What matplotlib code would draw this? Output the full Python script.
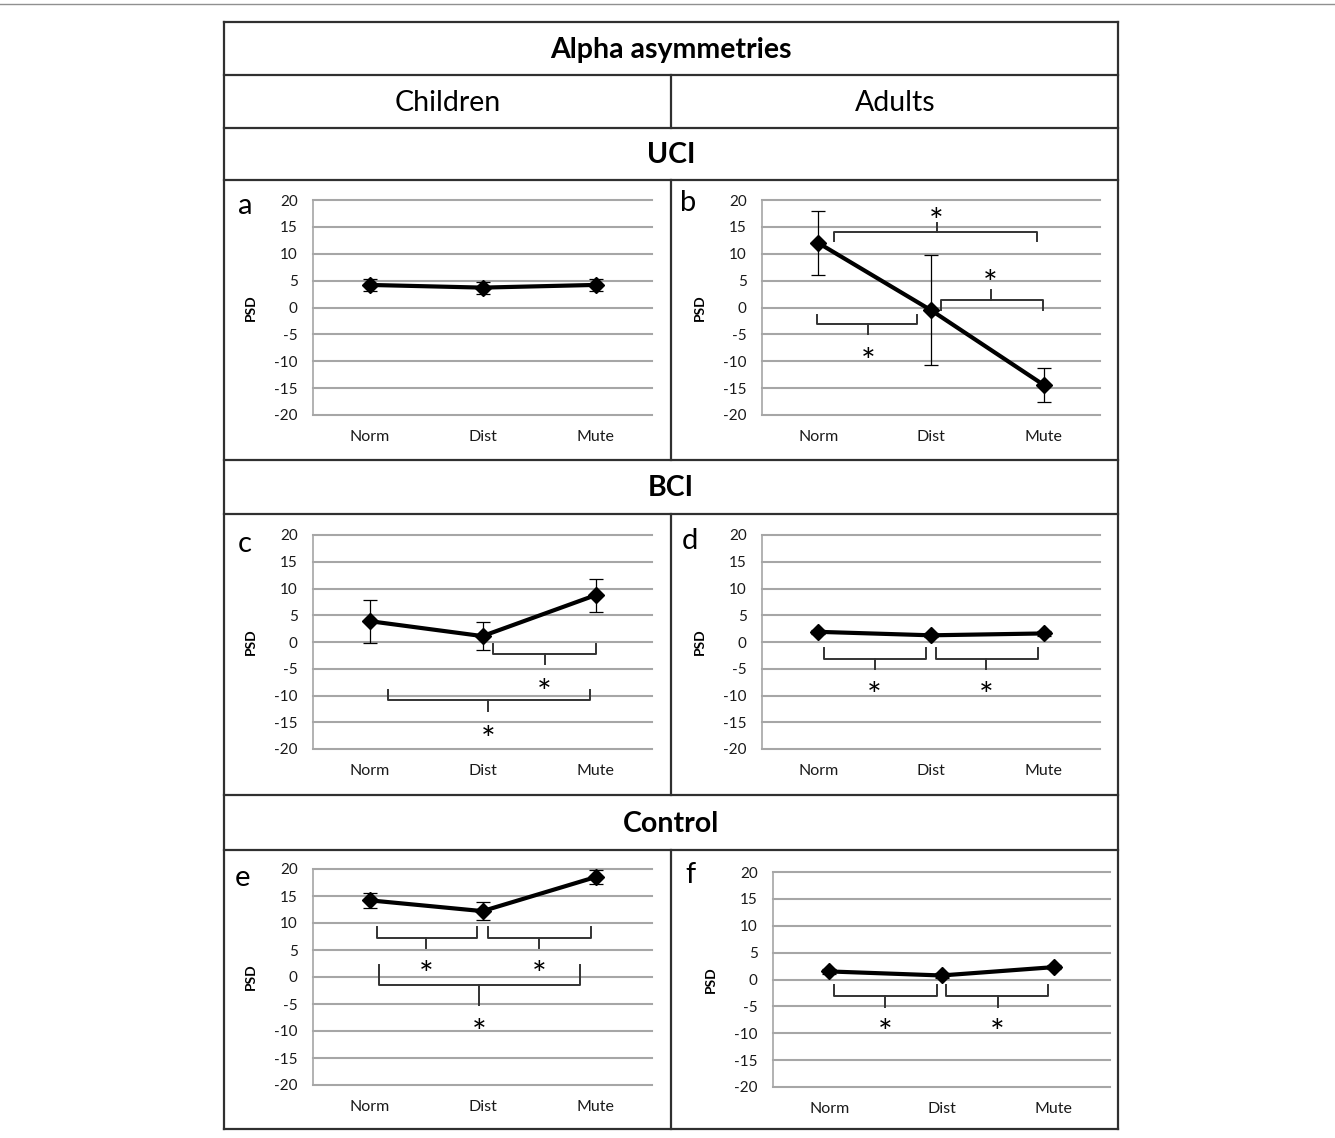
import matplotlib
matplotlib.use("Agg")
import matplotlib.pyplot as plt
from matplotlib.lines import Line2D
from matplotlib.transforms import offset_copy

plt.rcParams['font.family'] = ['Lato', 'DejaVu Sans']

# ---------------- data ----------------
categories = ["Norm", "Dist", "Mute"]
yticks = [20, 15, 10, 5, 0, -5, -10, -15, -20]

uci_children = [4.2, 3.7, 4.2]
uci_children_err = [1.1, 1.1, 1.1]
uci_adults = [12.0, -0.5, -14.4]
uci_adults_err = [5.9, 10.2, 3.2]

bci_children = [3.9, 1.1, 8.75]
bci_children_err = [4.0, 2.6, 3.1]
bci_adults = [1.9, 1.25, 1.6]
bci_adults_err = [0.4, 0.4, 0.4]

control_children = [14.2, 12.2, 18.5]
control_children_err = [1.4, 1.6, 1.3]
control_adults = [1.5, 0.75, 2.3]
control_adults_err = [0.4, 0.4, 0.4]

title = "Alpha asymmetries"
col_titles = ["Children", "Adults"]
row_titles = ["UCI", "BCI", "Control"]
panel_letters = ["a", "b", "c", "d", "e", "f"]

# ---------------- layout helpers ----------------
W, H = 1335, 1138
fig = plt.figure(figsize=(W / 100, H / 100), dpi=100)

def fx(x):
    return x / W

def fy(y):
    return 1 - y / H

def hline(y, x0, x1, lw=1.6, color="#303030"):
    fig.add_artist(Line2D([fx(x0), fx(x1)], [fy(y), fy(y)], lw=lw, color=color,
                          transform=fig.transFigure))

def vline(x, y0, y1, lw=1.6, color="#303030"):
    fig.add_artist(Line2D([fx(x), fx(x)], [fy(y0), fy(y1)], lw=lw, color=color,
                          transform=fig.transFigure))

# outer page line
hline(4, 0, W, lw=1.0, color="#909090")

# table
L, R, T, B, MID = 224, 1118, 22, 1129, 671
hline(T, L, R)
hline(B, L, R)
vline(L, T, B)
vline(R, T, B)
for y in [75, 128, 180, 460, 514, 795, 850]:
    hline(y, L, R)
vline(MID, 75, 128)
vline(MID, 180, 460)
vline(MID, 514, 795)
vline(MID, 850, B)

HFS = 20.5
fig.text(fx(671), fy(50), title, ha="center", va="center", fontsize=HFS, fontweight="bold")
fig.text(fx(448), fy(103), col_titles[0], ha="center", va="center", fontsize=HFS)
fig.text(fx(895), fy(103), col_titles[1], ha="center", va="center", fontsize=HFS)
fig.text(fx(671), fy(155), row_titles[0], ha="center", va="center", fontsize=HFS, fontweight="bold")
fig.text(fx(671), fy(488), row_titles[1], ha="center", va="center", fontsize=HFS, fontweight="bold")
fig.text(fx(671), fy(824), row_titles[2], ha="center", va="center", fontsize=HFS, fontweight="bold")

# axes boxes in pixels: left, right, top, bottom
boxes = [
    (313, 652, 200, 415),
    (762, 1100, 200, 415),
    (313, 652, 535, 749),
    (762, 1100, 535, 749),
    (313, 652, 869, 1085),
    (773, 1110, 872, 1087),
]
letter_pos = [(245, 206), (688, 203), (245, 544), (690, 541), (243, 878), (690, 875)]

series = [
    (uci_children, uci_children_err),
    (uci_adults, uci_adults_err),
    (bci_children, bci_children_err),
    (bci_adults, bci_adults_err),
    (control_children, control_children_err),
    (control_adults, control_adults_err),
]

# significance brackets: (x0, x1, y_bar, y_end, y_tip, x_tip, y_star)
brackets = [
    [],
    [(0.64, 2.44, 14.0, 12.3, 15.8, 1.55, 17.8),
     (1.59, 2.49, 1.4, -0.4, 3.3, 2.03, 6.3),
     (0.49, 1.38, -3.1, -1.4, -5.0, 0.94, -8.2)],
    [(1.59, 2.50, -2.3, -0.4, -4.2, 2.05, -7.5),
     (0.66, 2.45, -10.9, -9.0, -12.9, 1.55, -16.4)],
    [(0.55, 1.46, -3.2, -1.1, -5.1, 1.0, -8.2),
     (1.54, 2.45, -3.2, -1.1, -5.1, 1.99, -8.2)],
    [(0.57, 1.45, 7.3, 9.3, 5.4, 1.0, 2.3),
     (1.55, 2.46, 7.3, 9.3, 5.4, 2.0, 2.3),
     (0.58, 2.36, -1.55, 2.2, -5.2, 1.47, -8.4)],
    [(0.54, 1.46, -3.0, -1.1, -5.1, 1.0, -8.1),
     (1.54, 2.45, -3.0, -1.1, -5.1, 2.0, -8.1)],
]

xpos = [0.5, 1.5, 2.5]
grid_color = "#a6a6a6"
STAR_FS = 25

for i, ((l, r, t, b), (vals, errs)) in enumerate(zip(boxes, series)):
    ax = fig.add_axes([fx(l), fy(b), fx(r) - fx(l), fy(t) - fy(b)])
    ax.set_xlim(0, 3)
    ax.set_ylim(-20, 20)
    for yv in yticks:
        ax.axhline(yv, color=grid_color, lw=1.5, clip_on=False, zorder=1)
    for s in ["top", "right", "bottom"]:
        ax.spines[s].set_visible(False)
    ax.spines["left"].set_color(grid_color)
    ax.spines["left"].set_linewidth(1.2)
    ax.set_yticks(yticks)
    ax.set_yticklabels([str(v) for v in yticks])
    ax.set_xticks(xpos)
    ax.set_xticklabels(categories)
    ax.tick_params(axis="y", length=0, pad=11, labelsize=11, labelcolor="#1a1a1a")
    ax.tick_params(axis="x", length=0, pad=11, labelsize=11.5, labelcolor="#1a1a1a")
    ax.set_ylabel("PSD", fontsize=10, fontweight="bold")
    ax.yaxis.set_label_coords(-56 / (r - l), 0.5)
    ax.patch.set_alpha(0)

    ax.errorbar(xpos, vals, yerr=errs, fmt="none", ecolor="black", elinewidth=0.9,
                capsize=5, capthick=0.9, zorder=3)
    ax.plot(xpos, vals, color="black", lw=3, marker="D", ms=8.5, zorder=4)

    star_tr = offset_copy(ax.transData, fig=fig, x=0, y=-0.33 * STAR_FS, units="points")
    for (x0, x1, yb, ye, yt, xt, ys) in brackets[i]:
        ax.plot([x0, x0, x1, x1], [ye, yb, yb, ye], color="#333333", lw=1.4, zorder=5,
                solid_joinstyle="round")
        ax.plot([xt, xt], [yb, yt], color="#333333", lw=1.4, zorder=5)
        ax.text(xt, ys, "*", ha="center", va="center", fontsize=STAR_FS, color="black",
                transform=star_tr)

    lx, ly = letter_pos[i]
    fig.text(fx(lx), fy(ly), panel_letters[i], ha="center", va="center", fontsize=21)

fig.savefig("out.png", dpi=100)
